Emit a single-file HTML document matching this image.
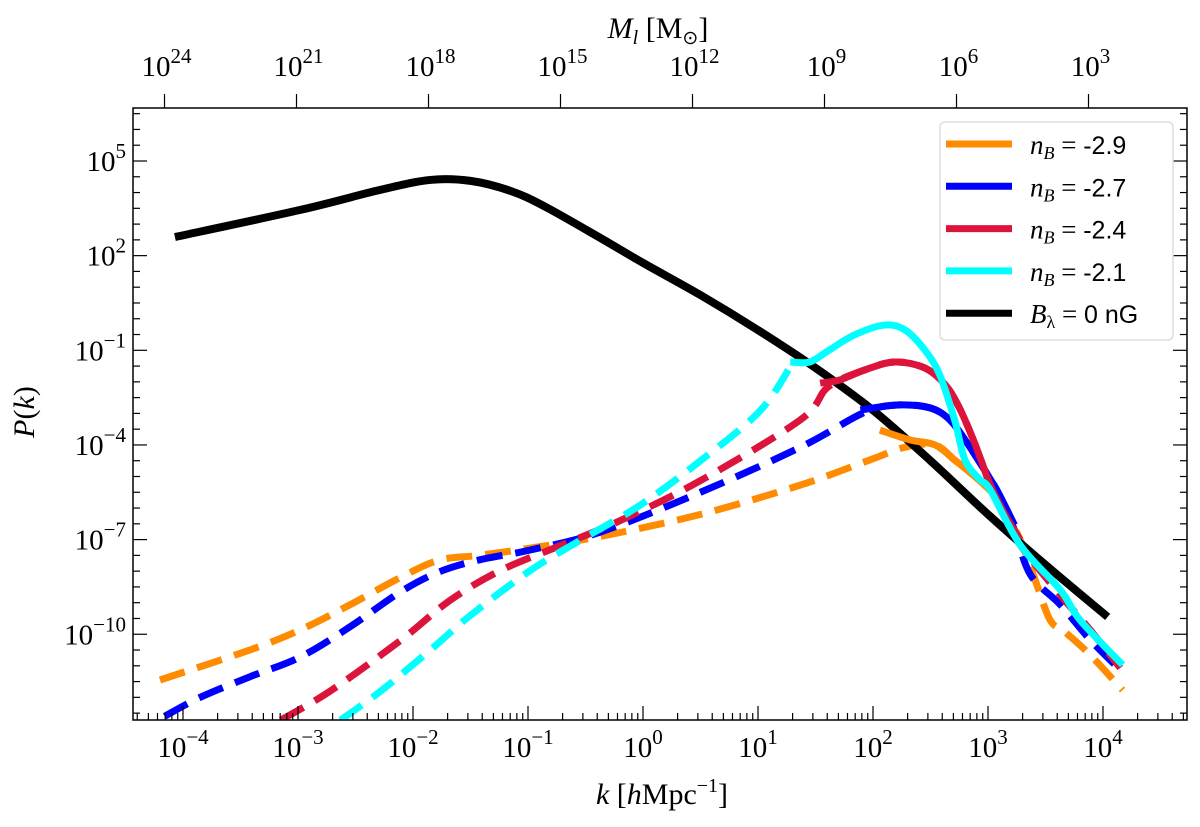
<!DOCTYPE html>
<html><head><meta charset="utf-8"><style>
body{margin:0;background:#fff}
svg{display:block}
text{font-family:"Liberation Serif",serif;fill:#000}
</style></head><body>
<svg id="c" width="1200" height="827" xmlns="http://www.w3.org/2000/svg">
<g id="plot"></g>
<g id="axes"></g>
<g id="legend"></g>
</svg>
<script>
// data: log10(k), log10(P)
const blackK=[-4.07,-2.98,-2.29,-1.85,-1.5,-1.15,-0.85,-0.37,0,0.5,1,1.5,2,2.5,3,3.5,4.04];
const blackP=[2.59,3.45,4.08,4.4,4.37,4.05,3.55,2.56,1.77,0.75,-0.36,-1.56,-2.9,-4.5,-6.2,-7.8,-9.45];
const orangeDK=[-4.2,-3.42,-2.98,-2.55,-2.11,-1.77,-1.42,-0.98,-0.37,0.5,1.37,1.97,2.28,2.54,2.71,2.84,2.97,3.1,3.28,3.41,3.54,3.67,3.89,4.17];
const orangeDP=[-11.45,-10.5,-9.86,-9.07,-8.2,-7.65,-7.5,-7.27,-6.9,-6.2,-5.27,-4.48,-4.07,-4.0,-4.48,-4.86,-5.27,-5.75,-7.01,-8.28,-9.55,-9.93,-10.66,-11.77];
const orangeSK=[2.06,2.32,2.54,2.71,2.84,2.97,3.1];
const orangeSP=[-3.53,-3.84,-4.0,-4.48,-4.86,-5.27,-5.75];
const blueDK=[-4.16,-3.85,-3.42,-2.98,-2.55,-2.11,-1.77,-1.42,-0.98,-0.37,0.5,1.37,1.93,2.23,2.5,2.67,2.8,2.97,3.1,3.23,3.37,3.63,3.89,4.15];
const blueDP=[-12.6,-12.0,-11.35,-10.72,-9.77,-8.66,-8.02,-7.64,-7.33,-6.76,-5.5,-4.07,-2.96,-2.73,-2.83,-3.21,-3.84,-4.79,-5.59,-6.7,-8.12,-9.07,-10.18,-11.13];
const blueSK=[1.89,2.23,2.5,2.67,2.8,2.97,3.1,3.23];
const blueSP=[-2.89,-2.73,-2.83,-3.21,-3.84,-4.79,-5.59,-6.54];
const redDK=[-3.15,-2.72,-2.11,-1.68,-1.24,-0.72,-0.2,0.5,1.37,1.61,1.93,2.19,2.45,2.63,2.76,2.89,3.02,3.15,3.28,3.63,3.89,4.15];
const redDP=[-12.72,-11.8,-10.2,-8.93,-7.98,-7.19,-6.4,-5.13,-3.2,-2.16,-1.62,-1.37,-1.56,-2.1,-2.89,-4.0,-5.27,-6.22,-7.17,-8.76,-9.87,-11.07];
const redSK=[1.54,1.71,1.93,2.19,2.45,2.63,2.76,2.89,3.02,3.15,3.28];
const redSP=[-2.04,-1.94,-1.62,-1.37,-1.56,-2.1,-2.89,-4.0,-5.27,-6.22,-7.01];
const cyanDK=[-2.63,-2.28,-1.85,-1.5,-0.98,-0.55,-0.03,0.5,1.02,1.3];
const cyanDP=[-12.72,-11.8,-10.5,-9.4,-7.98,-7.03,-5.92,-4.5,-2.91,-1.4];
const cyanSK=[1.28,1.45,1.62,1.84,2.1,2.28,2.45,2.58,2.71,2.8,2.93,3.02,3.28,3.63,3.8,4.17];
const cyanSP=[-1.37,-1.37,-0.99,-0.51,-0.2,-0.36,-0.99,-1.78,-3.21,-4.48,-5.1,-5.43,-7.17,-8.6,-9.55,-10.97];
const legendLabels=["-2.9","-2.7","-2.4","-2.1","0 nG"];
const xTicks=[-4,-3,-2,-1,0,1,2,3,4];
const yTicks=[-10,-7,-4,-1,2,5];
const topExps=[24,21,18,15,12,9,6,3];

const L=133,R=1187,T=108,B=720;
const X=lk=>643+115*lk;
const Y=lp=>161+31.55*(5-lp);
const NS="http://www.w3.org/2000/svg";
function mk(tag,attrs,parent){const e=document.createElementNS(NS,tag);for(const k in attrs)e.setAttribute(k,attrs[k]);parent.appendChild(e);return e;}
const plot=document.getElementById('plot'),axes=document.getElementById('axes'),leg=document.getElementById('legend');
const cp=mk('clipPath',{id:'clip'},plot);
mk('rect',{x:L,y:T,width:R-L,height:B-T},cp);
const pg=mk('g',{'clip-path':'url(#clip)'},plot);
function smooth(ks,ps){const p=ks.map((k,i)=>[X(k),Y(ps[i])]);let d=`M${p[0][0]},${p[0][1]}`;for(let i=0;i<p.length-1;i++){const p0=p[i-1]||p[i],p1=p[i],p2=p[i+1],p3=p[i+2]||p2;const c1=[p1[0]+(p2[0]-p0[0])/6,p1[1]+(p2[1]-p0[1])/6],c2=[p2[0]-(p3[0]-p1[0])/6,p2[1]-(p3[1]-p1[1])/6];d+=`C${c1[0]},${c1[1]} ${c2[0]},${c2[1]} ${p2[0]},${p2[1]}`;}return d;}
function line(ks,ps,col,dash,name,w){const e=mk('path',{d:smooth(ks,ps),fill:'none',stroke:col,'stroke-width':w||7,'stroke-dasharray':dash?'26,13':'none','stroke-linecap':'butt','stroke-linejoin':'round'},pg);

}
line(orangeDK,orangeDP,'#ff8c00',true,'orange-dashed-line');
line(blueDK,blueDP,'#0000ff',true,'blue-dashed-line');
line(redDK,redDP,'#dc143c',true,'red-dashed-line');
line(cyanDK,cyanDP,'#00ffff',true,'cyan-dashed-line');
line(blackK,blackP,'#000',false,'black-solid-line',8);
line(orangeSK,orangeSP,'#ff8c00',false,'orange-solid-line');
line(blueSK,blueSP,'#0000ff',false,'blue-solid-line');
line(redSK,redSP,'#dc143c',false,'red-solid-line');
line(cyanSK,cyanSP,'#00ffff',false,'cyan-solid-line');

mk('rect',{x:L,y:T,width:R-L,height:B-T,fill:'none',stroke:'#000','stroke-width':1.5},axes);
for(let d=-5;d<=4;d++){for(let m=1;m<10;m++){const x=X(d+Math.log10(m));if(x<L||x>R)continue;const len=m===1?14:7;mk('line',{x1:x,x2:x,y1:B,y2:B-len,stroke:'#000','stroke-width':1.2},axes);}}
xTicks.forEach(e=>{const t=mk('text',{x:X(e),y:757,'font-size':29,'text-anchor':'middle'},axes);t.innerHTML=`10<tspan dy="-13" font-size="21">${e<0?'−'+(-e):e}</tspan>`;

});
for(let v=-13;v<=7;v+=0.5){const y=Y(v);if(y<T||y>B)continue;const major=yTicks.includes(v);const len=major?14:7;mk('line',{x1:L,x2:L+len,y1:y,y2:y,stroke:'#000','stroke-width':1.2},axes);mk('line',{x1:R,x2:R-len,y1:y,y2:y,stroke:'#000','stroke-width':1.2},axes);}
yTicks.forEach(e=>{const t=mk('text',{x:L-7,y:Y(e)+10,'font-size':29,'text-anchor':'end'},axes);t.innerHTML=`10<tspan dy="-13" font-size="21">${e<0?'−'+(-e):e}</tspan>`;

});
topExps.forEach((e,i)=>{const x=164.5+132*i;mk('line',{x1:x,x2:x,y1:T,y2:T-14,stroke:'#000','stroke-width':1.2},axes);const t=mk('text',{x:x+2,y:76,'font-size':29,'text-anchor':'middle'},axes);t.innerHTML=`10<tspan dy="-13" font-size="21">${e}</tspan>`;

});
let t=mk('text',{x:658,y:38,'font-size':30,'text-anchor':'middle'},axes);t.innerHTML='<tspan font-style="italic">M</tspan><tspan font-style="italic" font-size="20" dy="6">l</tspan><tspan dy="-6"> [M</tspan><tspan font-size="19" dy="6">⊙</tspan><tspan dy="-6">]</tspan>';


t=mk('text',{x:662,y:804,'font-size':30,'text-anchor':'middle'},axes);t.innerHTML='<tspan font-style="italic">k</tspan>  [<tspan font-style="italic">h</tspan>Mpc<tspan dy="-12" font-size="20">−1</tspan><tspan dy="12">]</tspan>';


t=mk('text',{x:0,y:0,'font-size':30,'text-anchor':'middle',transform:'translate(34,412) rotate(-90)'},axes);t.innerHTML='<tspan font-style="italic">P</tspan>(<tspan font-style="italic">k</tspan>)';


mk('rect',{x:940,y:122,width:233,height:218,rx:5,fill:'#fff',stroke:'#ddd','stroke-width':1.5},leg);
const cols=['#ff8c00','#0000ff','#dc143c','#00ffff','#000'];
legendLabels.forEach((lab,i)=>{const y=144+42.3*i;const g=mk('g',{},leg);


mk('line',{x1:946,x2:1012,y1:y,y2:y,stroke:cols[i],'stroke-width':7},g);
const tx=mk('text',{x:1030,y:y+10,'font-size':27},g);
if(i<4){tx.innerHTML=`<tspan font-style="italic">n</tspan><tspan font-style="italic" font-size="18" dy="5">B</tspan><tspan dy="-5"> = </tspan><tspan font-family="Liberation Sans" font-size="25">${lab}</tspan>`;}
else{tx.innerHTML=`<tspan font-style="italic">B</tspan><tspan font-size="18" dy="5">λ</tspan><tspan dy="-5"> = </tspan><tspan font-family="Liberation Sans" font-size="25">${lab}</tspan>`;}
});
</script>
</body></html>
